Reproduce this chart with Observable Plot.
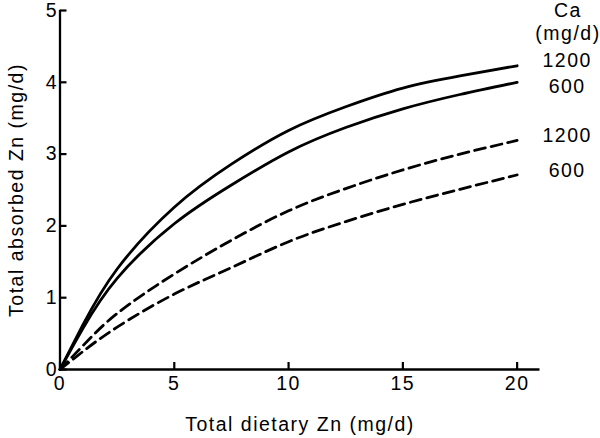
<!DOCTYPE html>
<html>
<head>
<meta charset="utf-8">
<script src="https://cdn.jsdelivr.net/npm/d3@7"></script>
<script src="https://cdn.jsdelivr.net/npm/@observablehq/plot@0.6"></script>
<style>
  html, body { margin: 0; padding: 0; background: #fff; }
  svg { font-family: "Liberation Sans", Arial, sans-serif; }
  svg text { letter-spacing: 1.5px; }
</style>
</head>
<body>
<div id="chart"></div>
<script>
const dietZn = [0, 1, 2.5, 5, 7.5, 10, 12.5, 15, 17.5, 20];
const solid1200 = [0, 0.62, 1.40, 2.26, 2.86, 3.33, 3.66, 3.92, 4.09, 4.23];
const solid600  = [0, 0.57, 1.27, 2.03, 2.57, 3.03, 3.37, 3.63, 3.83, 4.00];
const dashed1200 = [0, 0.33, 0.78, 1.33, 1.80, 2.21, 2.52, 2.78, 3.00, 3.19];
const dashed600  = [0, 0.25, 0.59, 1.05, 1.42, 1.78, 2.06, 2.30, 2.51, 2.71];
const seriesNames = ["solid1200", "solid600", "dashed1200", "dashed600"];
const seriesLabels = ["1200", "600", "1200", "600"];
const seriesDashed = [false, false, true, true];
const xTicks = [0, 5, 10, 15, 20];
const yTicks = [0, 1, 2, 3, 4, 5];
const legendTitle = ["Ca", "(mg/d)"];
const xLabel = "Total dietary Zn (mg/d)";
const yLabel = "Total absorbed Zn (mg/d)";

const valuesBySeries = [solid1200, solid600, dashed1200, dashed600];
const rows = [];
seriesNames.forEach((s, i) => {
  dietZn.forEach((x, j) => rows.push({series: s, x, y: valuesBySeries[i][j], dashed: seriesDashed[i]}));
});
const last = dietZn.length - 1;
const ends = seriesNames.map((s, i) => ({series: s, x: dietZn[last], y: valuesBySeries[i][last], label: seriesLabels[i]}));
const labelDy = [-5, 4, -5, -4];

const fs = 19.5;
const chart = Plot.plot({
  width: 600,
  height: 438,
  marginLeft: 59.5,
  marginRight: 60.5,
  marginTop: 10,
  marginBottom: 69,
  style: {fontFamily: '"Liberation Sans", Arial, sans-serif', fontSize: fs + "px", color: "#000", background: "#fff"},
  x: {domain: [0, 21]},
  y: {domain: [0, 5]},
  marks: [
    Plot.axisX({ticks: xTicks, tickFormat: "d", tickSize: -7, strokeWidth: 2.2, tickPadding: 14, fontSize: fs, label: null}),
    Plot.axisY({ticks: yTicks, tickFormat: "d", tickSize: -7, strokeWidth: 2.2, tickPadding: 9, fontSize: fs, label: null}),
    Plot.ruleY([0], {strokeWidth: 2.3}),
    Plot.ruleX([0], {strokeWidth: 2.3}),
    Plot.line(rows.filter(d => !d.dashed), {x: "x", y: "y", z: "series", stroke: "#000", strokeWidth: 2.8, curve: "natural"}),
    Plot.line(rows.filter(d => d.dashed), {x: "x", y: "y", z: "series", stroke: "#000", strokeWidth: 2.8, strokeDasharray: "11,6", curve: "natural"}),
    ...ends.map((e, i) => Plot.text([e], {x: "x", y: "y", text: "label", dx: 50, dy: labelDy[i], fontSize: fs, fill: "#000", textAnchor: "middle", lineAnchor: "middle"})),
    Plot.text([legendTitle[0]], {frameAnchor: "top-right", dx: 28, dy: 0, fontSize: fs, fill: "#000", textAnchor: "middle", lineAnchor: "middle"}),
    Plot.text([legendTitle[1]], {frameAnchor: "top-right", dx: 28, dy: 23, fontSize: fs, fill: "#000", textAnchor: "middle", lineAnchor: "middle"}),
    Plot.text([xLabel], {frameAnchor: "bottom", dy: 55, fontSize: fs, fill: "#000", textAnchor: "middle", lineAnchor: "middle"}),
    Plot.text([yLabel], {frameAnchor: "left", dx: -43.5, rotate: -90, fontSize: fs, fill: "#000", textAnchor: "middle", lineAnchor: "middle"})
  ]
});
document.getElementById("chart").appendChild(chart);
</script>
</body>
</html>
